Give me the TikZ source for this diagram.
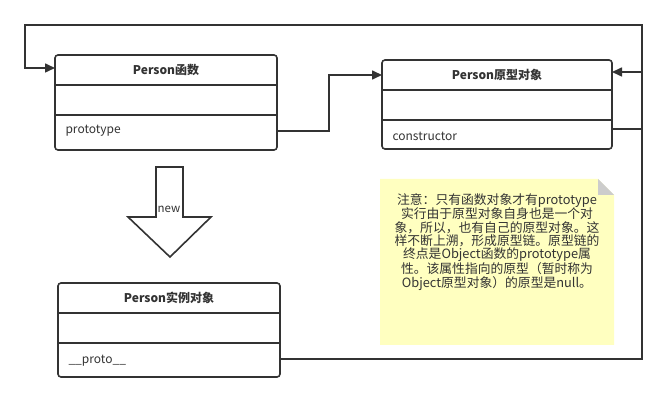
\documentclass[tikz,border=0pt]{standalone}
\usepackage{fontspec}
\setmainfont{Noto Sans CJK SC}
\definecolor{ln}{HTML}{333333}
\definecolor{notey}{HTML}{FFFFC0}
\definecolor{foldg}{HTML}{CCCCCC}
\tikzset{
  cls/.style={draw=ln, line width=1.6pt, rounded corners=3pt, fill=white},
  sep/.style={draw=ln, line width=1.6pt},
  conn/.style={draw=ln, line width=1.6pt},
  arr/.style={conn, -{Triangle[length=10pt,width=9pt]}},
  hdr/.style={font=\fontsize{12}{14}\selectfont\bfseries, text=ln},
  fld/.style={font=\fontsize{12}{14}\selectfont, text=ln, anchor=west},
}
\usetikzlibrary{arrows.meta}
\begin{document}
\begin{tikzpicture}[x=1pt,y=-1pt]
\useasboundingbox (0,0) rectangle (667,403);
% Person function box
\draw[cls] (55,55) rectangle (277,150);
\draw[sep] (55,85) -- (277,85);
\draw[sep] (55,115) -- (277,115);
\node[hdr] (fh) at (166,70) {Person函数};
\node[fld] (fp) at (62,131) {prototype};
\coordinate (fL) at (55,68);
\coordinate (fR) at (277,131);
% Person prototype box
\draw[cls] (382,60) rectangle (612,149);
\draw[sep] (382,90) -- (612,90);
\draw[sep] (382,120) -- (612,120);
\node[hdr] (ph) at (497,75) {Person原型对象};
\node[fld] (pc) at (389,136) {constructor};
\coordinate (pL) at (382,75);
\coordinate (pRt) at (612,72);
\coordinate (pRb) at (612,129);
% Person instance box
\draw[cls] (58,283) rectangle (280,377);
\draw[sep] (58,313) -- (280,313);
\draw[sep] (58,343) -- (280,343);
\node[hdr] (ih) at (169,298) {Person实例对象};
\node[fld] (ip) at (65,361) {\_\_proto\_\_};
\coordinate (iR) at (280,359);
% big arrow new
\draw[draw=ln, line width=1.6pt, fill=white, line join=miter]
  (156,167) -- (183,167) -- (183,217) -- (211,217) -- (170,257) -- (128,217) -- (156,217) -- cycle;
\node[font=\fontsize{11.5}{13}\selectfont, text=ln, inner sep=0pt] (nw) at (169,209) {new};
% connectors
\draw[arr] (fR) -- (329,131) -- (329,75) -- (pL);
\draw[arr] (pRb) -- (642,129) -- (642,25) -- (25,25) -- (25,68) -- (fL);
\draw[arr] (iR) -- (642,359) -- (642,72) -- (pRt);
% note
\fill[notey] (380,179) -- (598,179) -- (614,195) -- (614,345) -- (380,345) -- cycle;
\fill[foldg] (598,179) -- (614,195) -- (598,195) -- cycle;
\node[font=\fontsize{12.8}{13.3}\selectfont, text=ln, align=center, inner sep=0pt, anchor=north] (note) at (497,193) {注意：只有函数对象才有prototype\\实行由于原型对象自身也是一个对\\象，所以，也有自己的原型对象。这\\样不断上溯，形成原型链。原型链的\\终点是Object函数的prototype属\\性。该属性指向的原型（暂时称为\\Object原型对象）的原型是null。};
\end{tikzpicture}
\end{document}
